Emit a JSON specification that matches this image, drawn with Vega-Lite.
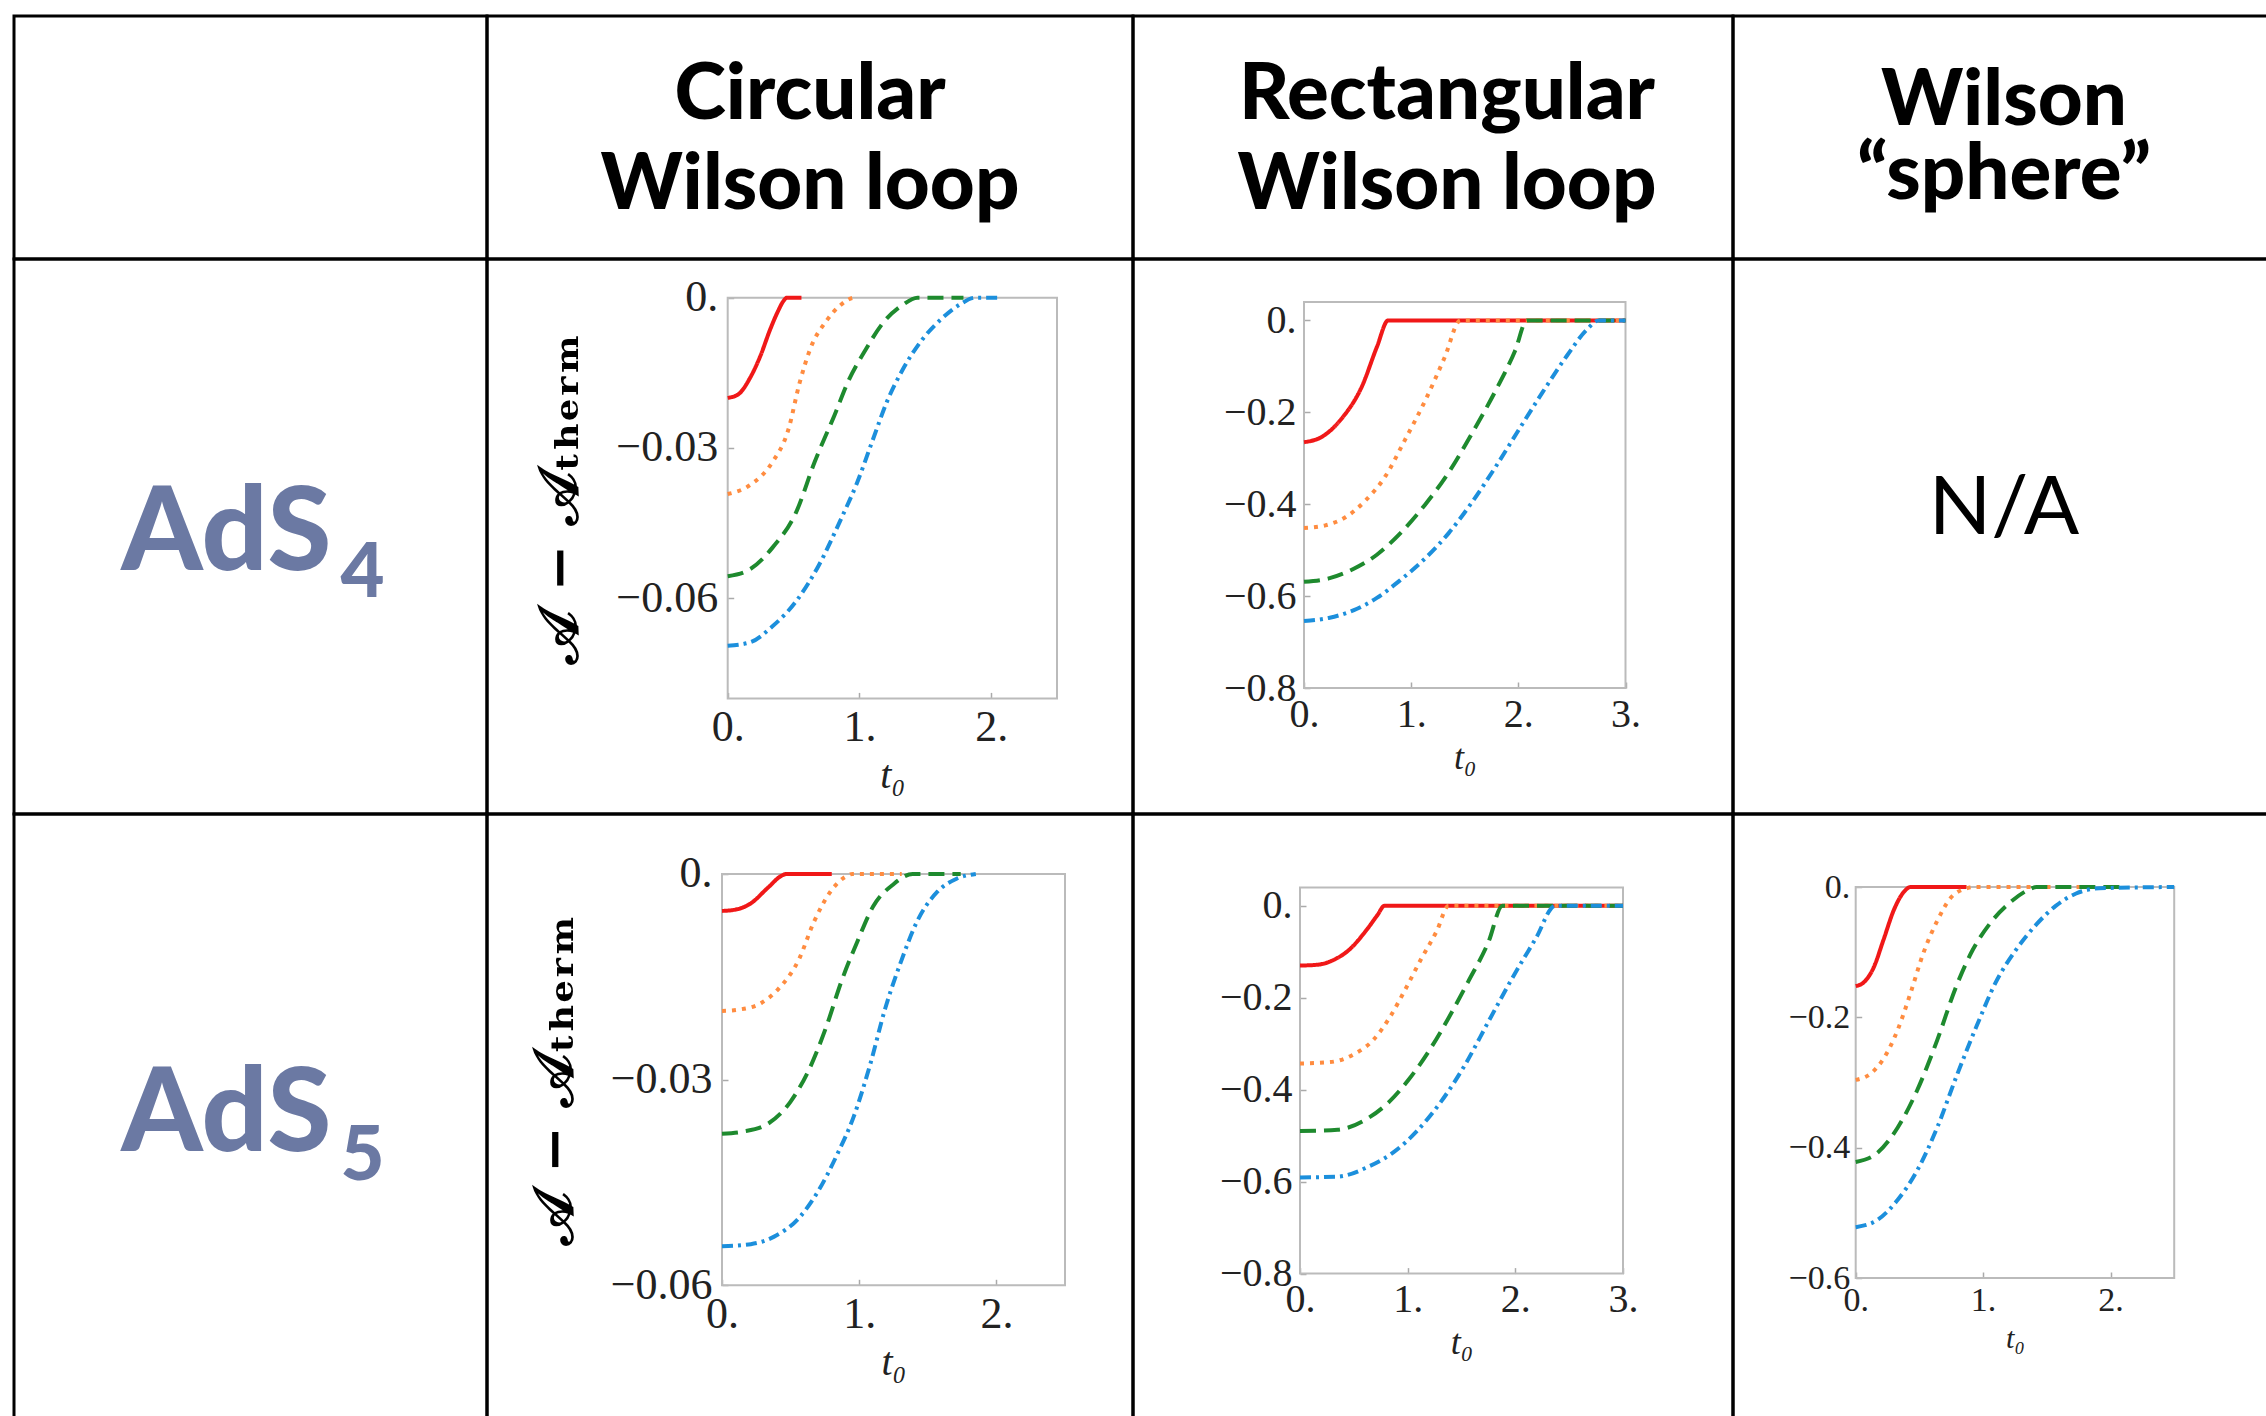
{
  "$schema": "https://vega.github.io/schema/vega-lite/v6.json",
  "padding": {"left": 12, "top": 14, "right": 0, "bottom": 0},
  "background": "white",
  "bounds": "flush",
  "spacing": 0,
  "columns": 4,
  "config": {
    "view": {"stroke": "#000", "strokeWidth": 3},
    "axis": {"grid": false, "labelFont": "Liberation Serif", "labelColor": "#222", "titleFont": "Liberation Serif", "titleColor": "#222", "titleFontWeight": "normal", "domain": false, "tickColor": "#aaa", "tickSize": -6, "tickWidth": 1.5, "labelOverlap": false, "labelFlush": false, "labelBound": false},
    "text": {"font": "Lato"},
    "line": {"strokeWidth": 4, "interpolate": "monotone"}
  },
  "datasets": {
    "c4": [
      {"s": "s1", "t": 0, "v": -0.0200}, {"s": "s1", "t": 0.08, "v": -0.0193}, {"s": "s1", "t": 0.17, "v": -0.0160}, {"s": "s1", "t": 0.25, "v": -0.0115}, {"s": "s1", "t": 0.32, "v": -0.0065}, {"s": "s1", "t": 0.38, "v": -0.0028}, {"s": "s1", "t": 0.42, "v": -0.0008}, {"s": "s1", "t": 0.45, "v": 0}, {"s": "s1", "t": 0.56, "v": 0},
      {"s": "s2", "t": 0, "v": -0.0392}, {"s": "s2", "t": 0.17, "v": -0.0374}, {"s": "s2", "t": 0.34, "v": -0.0328}, {"s": "s2", "t": 0.46, "v": -0.0264}, {"s": "s2", "t": 0.545, "v": -0.0171}, {"s": "s2", "t": 0.63, "v": -0.0100}, {"s": "s2", "t": 0.75, "v": -0.0046}, {"s": "s2", "t": 0.86, "v": -0.0014}, {"s": "s2", "t": 0.965, "v": 0}, {"s": "s2", "t": 0.98, "v": 0},
      {"s": "s3", "t": 0, "v": -0.0556}, {"s": "s3", "t": 0.17, "v": -0.0542}, {"s": "s3", "t": 0.34, "v": -0.0499}, {"s": "s3", "t": 0.52, "v": -0.0428}, {"s": "s3", "t": 0.66, "v": -0.0328}, {"s": "s3", "t": 0.81, "v": -0.0235}, {"s": "s3", "t": 0.92, "v": -0.0164}, {"s": "s3", "t": 1.04, "v": -0.0107}, {"s": "s3", "t": 1.18, "v": -0.0050}, {"s": "s3", "t": 1.33, "v": -0.0014}, {"s": "s3", "t": 1.44, "v": 0}, {"s": "s3", "t": 1.79, "v": 0},
      {"s": "s4", "t": 0, "v": -0.0695}, {"s": "s4", "t": 0.17, "v": -0.0688}, {"s": "s4", "t": 0.34, "v": -0.0656}, {"s": "s4", "t": 0.52, "v": -0.0606}, {"s": "s4", "t": 0.69, "v": -0.0535}, {"s": "s4", "t": 0.86, "v": -0.0442}, {"s": "s4", "t": 0.98, "v": -0.0371}, {"s": "s4", "t": 1.10, "v": -0.0285}, {"s": "s4", "t": 1.21, "v": -0.0207}, {"s": "s4", "t": 1.33, "v": -0.0143}, {"s": "s4", "t": 1.47, "v": -0.0086}, {"s": "s4", "t": 1.62, "v": -0.0043}, {"s": "s4", "t": 1.76, "v": -0.0014}, {"s": "s4", "t": 1.88, "v": 0}, {"s": "s4", "t": 2.07, "v": 0}
    ],
    "r4": [
      {"s": "s1", "t": 0, "v": -0.265}, {"s": "s1", "t": 0.17, "v": -0.253}, {"s": "s1", "t": 0.35, "v": -0.214}, {"s": "s1", "t": 0.54, "v": -0.144}, {"s": "s1", "t": 0.68, "v": -0.058}, {"s": "s1", "t": 0.786, "v": 0}, {"s": "s1", "t": 3, "v": 0},
      {"s": "s2", "t": 0, "v": -0.452}, {"s": "s2", "t": 0.20, "v": -0.446}, {"s": "s2", "t": 0.39, "v": -0.428}, {"s": "s2", "t": 0.57, "v": -0.393}, {"s": "s2", "t": 0.76, "v": -0.339}, {"s": "s2", "t": 0.94, "v": -0.261}, {"s": "s2", "t": 1.13, "v": -0.175}, {"s": "s2", "t": 1.31, "v": -0.082}, {"s": "s2", "t": 1.46, "v": 0}, {"s": "s2", "t": 3, "v": 0},
      {"s": "s3", "t": 0, "v": -0.569}, {"s": "s3", "t": 0.24, "v": -0.561}, {"s": "s3", "t": 0.46, "v": -0.541}, {"s": "s3", "t": 0.68, "v": -0.510}, {"s": "s3", "t": 0.90, "v": -0.463}, {"s": "s3", "t": 1.13, "v": -0.401}, {"s": "s3", "t": 1.35, "v": -0.331}, {"s": "s3", "t": 1.57, "v": -0.245}, {"s": "s3", "t": 1.79, "v": -0.152}, {"s": "s3", "t": 1.97, "v": -0.066}, {"s": "s3", "t": 2.08, "v": 0}, {"s": "s3", "t": 3, "v": 0},
      {"s": "s4", "t": 0, "v": -0.654}, {"s": "s4", "t": 0.24, "v": -0.647}, {"s": "s4", "t": 0.46, "v": -0.631}, {"s": "s4", "t": 0.68, "v": -0.604}, {"s": "s4", "t": 0.90, "v": -0.565}, {"s": "s4", "t": 1.13, "v": -0.518}, {"s": "s4", "t": 1.35, "v": -0.463}, {"s": "s4", "t": 1.57, "v": -0.395}, {"s": "s4", "t": 1.79, "v": -0.318}, {"s": "s4", "t": 2.01, "v": -0.236}, {"s": "s4", "t": 2.23, "v": -0.155}, {"s": "s4", "t": 2.45, "v": -0.078}, {"s": "s4", "t": 2.64, "v": -0.020}, {"s": "s4", "t": 2.75, "v": 0}, {"s": "s4", "t": 3, "v": 0}
    ],
    "c5": [
      {"s": "s1", "t": 0, "v": -0.0054}, {"s": "s1", "t": 0.10, "v": -0.0052}, {"s": "s1", "t": 0.21, "v": -0.0043}, {"s": "s1", "t": 0.33, "v": -0.0021}, {"s": "s1", "t": 0.44, "v": -0.0002}, {"s": "s1", "t": 0.47, "v": 0}, {"s": "s1", "t": 0.80, "v": 0},
      {"s": "s2", "t": 0, "v": -0.0200}, {"s": "s2", "t": 0.12, "v": -0.0198}, {"s": "s2", "t": 0.27, "v": -0.0190}, {"s": "s2", "t": 0.41, "v": -0.0168}, {"s": "s2", "t": 0.56, "v": -0.0125}, {"s": "s2", "t": 0.67, "v": -0.0070}, {"s": "s2", "t": 0.79, "v": -0.0026}, {"s": "s2", "t": 0.92, "v": -0.0002}, {"s": "s2", "t": 0.95, "v": 0}, {"s": "s2", "t": 1.31, "v": 0},
      {"s": "s3", "t": 0, "v": -0.0379}, {"s": "s3", "t": 0.15, "v": -0.0376}, {"s": "s3", "t": 0.33, "v": -0.0365}, {"s": "s3", "t": 0.50, "v": -0.0332}, {"s": "s3", "t": 0.64, "v": -0.0283}, {"s": "s3", "t": 0.76, "v": -0.0223}, {"s": "s3", "t": 0.87, "v": -0.0157}, {"s": "s3", "t": 0.99, "v": -0.0097}, {"s": "s3", "t": 1.10, "v": -0.0048}, {"s": "s3", "t": 1.25, "v": -0.0015}, {"s": "s3", "t": 1.39, "v": 0}, {"s": "s3", "t": 1.74, "v": 0},
      {"s": "s4", "t": 0, "v": -0.0543}, {"s": "s4", "t": 0.21, "v": -0.0540}, {"s": "s4", "t": 0.38, "v": -0.0529}, {"s": "s4", "t": 0.56, "v": -0.0502}, {"s": "s4", "t": 0.70, "v": -0.0463}, {"s": "s4", "t": 0.84, "v": -0.0409}, {"s": "s4", "t": 0.96, "v": -0.0354}, {"s": "s4", "t": 1.08, "v": -0.0278}, {"s": "s4", "t": 1.19, "v": -0.0196}, {"s": "s4", "t": 1.31, "v": -0.0125}, {"s": "s4", "t": 1.42, "v": -0.0070}, {"s": "s4", "t": 1.57, "v": -0.0026}, {"s": "s4", "t": 1.71, "v": -0.0007}, {"s": "s4", "t": 1.85, "v": 0}
    ],
    "r5": [
      {"s": "s1", "t": 0, "v": -0.130}, {"s": "s1", "t": 0.17, "v": -0.128}, {"s": "s1", "t": 0.31, "v": -0.118}, {"s": "s1", "t": 0.46, "v": -0.095}, {"s": "s1", "t": 0.61, "v": -0.055}, {"s": "s1", "t": 0.72, "v": -0.020}, {"s": "s1", "t": 0.784, "v": 0}, {"s": "s1", "t": 3, "v": 0},
      {"s": "s2", "t": 0, "v": -0.343}, {"s": "s2", "t": 0.28, "v": -0.340}, {"s": "s2", "t": 0.50, "v": -0.323}, {"s": "s2", "t": 0.68, "v": -0.292}, {"s": "s2", "t": 0.83, "v": -0.244}, {"s": "s2", "t": 0.98, "v": -0.181}, {"s": "s2", "t": 1.12, "v": -0.118}, {"s": "s2", "t": 1.27, "v": -0.055}, {"s": "s2", "t": 1.38, "v": 0}, {"s": "s2", "t": 3, "v": 0},
      {"s": "s3", "t": 0, "v": -0.490}, {"s": "s3", "t": 0.35, "v": -0.487}, {"s": "s3", "t": 0.61, "v": -0.465}, {"s": "s3", "t": 0.83, "v": -0.426}, {"s": "s3", "t": 1.01, "v": -0.378}, {"s": "s3", "t": 1.20, "v": -0.315}, {"s": "s3", "t": 1.38, "v": -0.244}, {"s": "s3", "t": 1.56, "v": -0.166}, {"s": "s3", "t": 1.75, "v": -0.079}, {"s": "s3", "t": 1.88, "v": 0}, {"s": "s3", "t": 3, "v": 0},
      {"s": "s4", "t": 0, "v": -0.591}, {"s": "s4", "t": 0.35, "v": -0.589}, {"s": "s4", "t": 0.64, "v": -0.567}, {"s": "s4", "t": 0.87, "v": -0.536}, {"s": "s4", "t": 1.09, "v": -0.489}, {"s": "s4", "t": 1.31, "v": -0.426}, {"s": "s4", "t": 1.53, "v": -0.347}, {"s": "s4", "t": 1.75, "v": -0.252}, {"s": "s4", "t": 1.97, "v": -0.158}, {"s": "s4", "t": 2.19, "v": -0.071}, {"s": "s4", "t": 2.37, "v": 0}, {"s": "s4", "t": 3, "v": 0}
    ],
    "s5": [
      {"s": "s1", "t": 0, "v": -0.152}, {"s": "s1", "t": 0.065, "v": -0.146}, {"s": "s1", "t": 0.14, "v": -0.124}, {"s": "s1", "t": 0.22, "v": -0.080}, {"s": "s1", "t": 0.30, "v": -0.035}, {"s": "s1", "t": 0.38, "v": -0.007}, {"s": "s1", "t": 0.43, "v": 0}, {"s": "s1", "t": 0.87, "v": 0},
      {"s": "s2", "t": 0, "v": -0.296}, {"s": "s2", "t": 0.12, "v": -0.286}, {"s": "s2", "t": 0.22, "v": -0.263}, {"s": "s2", "t": 0.33, "v": -0.219}, {"s": "s2", "t": 0.43, "v": -0.163}, {"s": "s2", "t": 0.53, "v": -0.102}, {"s": "s2", "t": 0.64, "v": -0.052}, {"s": "s2", "t": 0.74, "v": -0.018}, {"s": "s2", "t": 0.87, "v": -0.002}, {"s": "s2", "t": 0.92, "v": 0}, {"s": "s2", "t": 1.8, "v": 0},
      {"s": "s3", "t": 0, "v": -0.422}, {"s": "s3", "t": 0.17, "v": -0.408}, {"s": "s3", "t": 0.33, "v": -0.369}, {"s": "s3", "t": 0.48, "v": -0.313}, {"s": "s3", "t": 0.64, "v": -0.235}, {"s": "s3", "t": 0.79, "v": -0.152}, {"s": "s3", "t": 0.92, "v": -0.096}, {"s": "s3", "t": 1.05, "v": -0.057}, {"s": "s3", "t": 1.21, "v": -0.024}, {"s": "s3", "t": 1.36, "v": -0.004}, {"s": "s3", "t": 1.42, "v": 0}, {"s": "s3", "t": 2.1, "v": 0},
      {"s": "s4", "t": 0, "v": -0.522}, {"s": "s4", "t": 0.17, "v": -0.511}, {"s": "s4", "t": 0.33, "v": -0.480}, {"s": "s4", "t": 0.48, "v": -0.436}, {"s": "s4", "t": 0.64, "v": -0.369}, {"s": "s4", "t": 0.79, "v": -0.291}, {"s": "s4", "t": 0.95, "v": -0.213}, {"s": "s4", "t": 1.10, "v": -0.146}, {"s": "s4", "t": 1.26, "v": -0.096}, {"s": "s4", "t": 1.42, "v": -0.057}, {"s": "s4", "t": 1.57, "v": -0.029}, {"s": "s4", "t": 1.73, "v": -0.010}, {"s": "s4", "t": 1.91, "v": -0.002}, {"s": "s4", "t": 2.5, "v": 0}
    ]
  },
  "concat": [
    {"width": 473, "height": 243, "data": {"values": [{"label": ""}]}, "mark": {"type": "text"},
     "encoding": {"x": {"datum": 0.5, "type": "quantitative", "scale": {"domain": [0, 1]}, "axis": null}, "y": {"datum": 0.5, "type": "quantitative", "scale": {"domain": [0, 1]}, "axis": null}, "text": {"field": "label"}}},
    {"width": 646, "height": 243, "data": {"values": [{"label": ["Circular", "Wilson loop"]}]}, "mark": {"type": "text", "fontSize": 78, "fontWeight": 900, "baseline": "alphabetic", "dy": -18.5, "lineHeight": 90, "color": "#000"},
     "encoding": {"x": {"datum": 0.5, "type": "quantitative", "scale": {"domain": [0, 1]}, "axis": null}, "y": {"datum": 0.5, "type": "quantitative", "scale": {"domain": [0, 1]}, "axis": null}, "text": {"field": "label"}}},
    {"width": 600, "height": 243, "data": {"values": [{"label": ["Rectangular", "Wilson loop"]}]}, "mark": {"type": "text", "fontSize": 78, "fontWeight": 900, "baseline": "alphabetic", "dx": 14, "dy": -18.5, "lineHeight": 90, "color": "#000"},
     "encoding": {"x": {"datum": 0.5, "type": "quantitative", "scale": {"domain": [0, 1]}, "axis": null}, "y": {"datum": 0.5, "type": "quantitative", "scale": {"domain": [0, 1]}, "axis": null}, "text": {"field": "label"}}},
    {"width": 542, "height": 243, "data": {"values": [{"label": ["Wilson", "“sphere”"]}]}, "mark": {"type": "text", "fontSize": 78, "fontWeight": 900, "baseline": "alphabetic", "dy": -12.5, "lineHeight": 74, "color": "#000"},
     "encoding": {"x": {"datum": 0.5, "type": "quantitative", "scale": {"domain": [0, 1]}, "axis": null}, "y": {"datum": 0.5, "type": "quantitative", "scale": {"domain": [0, 1]}, "axis": null}, "text": {"field": "label"}}},

    {"width": 473, "height": 555, "data": {"values": [{"name": "AdS", "sub": "4"}]},
     "encoding": {"x": {"datum": 0.5, "type": "quantitative", "scale": {"domain": [0, 1]}, "axis": null}, "y": {"datum": 0.5, "type": "quantitative", "scale": {"domain": [0, 1]}, "axis": null}},
     "layer": [
       {"mark": {"type": "text", "fontSize": 116, "fontWeight": 900, "align": "right", "baseline": "alphabetic", "dx": 81, "dy": 33.5, "color": "#6b79a3"}, "encoding": {"text": {"field": "name"}}},
       {"mark": {"type": "text", "fontSize": 76, "fontWeight": 900, "align": "left", "baseline": "alphabetic", "dx": 90, "dy": 60.5, "color": "#6b79a3"}, "encoding": {"text": {"field": "sub"}}}
     ]},
    {"width": 646, "height": 555, "data": {"name": "c4"},
     "layer": [
       {"data": {"values": [{}]}, "mark": {"type": "rect", "fill": "transparent", "stroke": "#bbbbbb", "strokeWidth": 2}, "encoding": {"x": {"datum": 0, "type": "quantitative"}, "x2": {"datum": 2.5}, "y": {"datum": -0.08, "type": "quantitative"}, "y2": {"datum": 0}}},
       {"mark": {"type": "line"}, "encoding": {
         "x": {"field": "t", "type": "quantitative", "scale": {"domain": [0, 2.5], "range": [240.7, 570], "nice": false, "zero": false}, "axis": {"values": [0, 1, 2], "labelExpr": "datum.value + '.'", "offset": -115.6, "labelFontSize": 44, "labelPadding": 13, "title": "t₀", "titleFontStyle": "italic", "titleFontSize": 40, "titlePadding": 6}},
         "y": {"field": "v", "type": "quantitative", "scale": {"domain": [-0.08, 0], "range": [439.4, 38.7], "nice": false, "zero": false}, "axis": {"values": [0, -0.03, -0.06], "labelExpr": "datum.value == 0 ? '0.' : '−' + format(-datum.value, '.2f')", "offset": -240.7, "labelFontSize": 44, "labelPadding": 16, "title": "𝒜 − 𝒜ₜₕₑᵣₘ", "titleFont": "DejaVu Serif", "titleFontWeight": "bold", "titleColor": "#000", "titleFontSize": 56, "titlePadding": 26}},
         "color": {"field": "s", "type": "nominal", "scale": {"domain": ["s1", "s2", "s3", "s4"], "range": ["#f01818", "#ff8c40", "#1e8a2e", "#1c8fdc"]}, "legend": null},
         "strokeDash": {"field": "s", "type": "nominal", "scale": {"domain": ["s1", "s2", "s3", "s4"], "range": [[1, 0], [4, 6], [16, 8], [11, 5, 3, 5]]}, "legend": null}}}
     ]},
    {"width": 600, "height": 555, "data": {"name": "r4"},
     "layer": [
       {"data": {"values": [{}]}, "mark": {"type": "rect", "fill": "transparent", "stroke": "#bbbbbb", "strokeWidth": 2}, "encoding": {"x": {"datum": 0, "type": "quantitative"}, "x2": {"datum": 3}, "y": {"datum": -0.8, "type": "quantitative"}, "y2": {"datum": 0.04}}},
       {"mark": {"type": "line"}, "encoding": {
         "x": {"field": "t", "type": "quantitative", "scale": {"domain": [0, 3], "range": [171, 492.5], "nice": false, "zero": false}, "axis": {"values": [0, 1, 2, 3], "labelExpr": "datum.value + '.'", "offset": -126, "labelFontSize": 40, "labelPadding": 12, "title": "t₀", "titleFontStyle": "italic", "titleFontSize": 36, "titlePadding": 6}},
         "y": {"field": "v", "type": "quantitative", "scale": {"domain": [-0.8, 0.04], "range": [429, 43], "nice": false, "zero": false}, "axis": {"values": [0, -0.2, -0.4, -0.6, -0.8], "labelExpr": "datum.value == 0 ? '0.' : '−' + format(-datum.value, '.1f')", "offset": -171, "labelFontSize": 40, "labelPadding": 14, "title": null}},
         "color": {"field": "s", "type": "nominal", "scale": {"domain": ["s1", "s2", "s3", "s4"], "range": ["#f01818", "#ff8c40", "#1e8a2e", "#1c8fdc"]}, "legend": null},
         "strokeDash": {"field": "s", "type": "nominal", "scale": {"domain": ["s1", "s2", "s3", "s4"], "range": [[1, 0], [4, 6], [16, 8], [11, 5, 3, 5]]}, "legend": null}}}
     ]},
    {"width": 542, "height": 555, "data": {"values": [{"label": "N/A"}]}, "mark": {"type": "text", "fontSize": 82, "baseline": "alphabetic", "dy": -2.5, "color": "#000"},
     "encoding": {"x": {"datum": 0.5, "type": "quantitative", "scale": {"domain": [0, 1]}, "axis": null}, "y": {"datum": 0.5, "type": "quantitative", "scale": {"domain": [0, 1]}, "axis": null}, "text": {"field": "label"}}},

    {"width": 473, "height": 610, "data": {"values": [{"name": "AdS", "sub": "5"}]},
     "encoding": {"x": {"datum": 0.5, "type": "quantitative", "scale": {"domain": [0, 1]}, "axis": null}, "y": {"datum": 0.5, "type": "quantitative", "scale": {"domain": [0, 1]}, "axis": null}},
     "layer": [
       {"mark": {"type": "text", "fontSize": 116, "fontWeight": 900, "align": "right", "baseline": "alphabetic", "dx": 81, "dy": 32, "color": "#6b79a3"}, "encoding": {"text": {"field": "name"}}},
       {"mark": {"type": "text", "fontSize": 76, "fontWeight": 900, "align": "left", "baseline": "alphabetic", "dx": 90, "dy": 61, "color": "#6b79a3"}, "encoding": {"text": {"field": "sub"}}}
     ]},
    {"width": 646, "height": 610, "data": {"name": "c5"},
     "layer": [
       {"data": {"values": [{}]}, "mark": {"type": "rect", "fill": "transparent", "stroke": "#bbbbbb", "strokeWidth": 2}, "encoding": {"x": {"datum": 0, "type": "quantitative"}, "x2": {"datum": 2.5}, "y": {"datum": -0.06, "type": "quantitative"}, "y2": {"datum": 0}}},
       {"mark": {"type": "line"}, "encoding": {
         "x": {"field": "t", "type": "quantitative", "scale": {"domain": [0, 2.5], "range": [235, 578], "nice": false, "zero": false}, "axis": {"values": [0, 1, 2], "labelExpr": "datum.value + '.'", "offset": -138.7, "labelFontSize": 44, "labelPadding": 13, "title": "t₀", "titleFontStyle": "italic", "titleFontSize": 40, "titlePadding": 6}},
         "y": {"field": "v", "type": "quantitative", "scale": {"domain": [-0.06, 0], "range": [471.3, 59.9], "nice": false, "zero": false}, "axis": {"values": [0, -0.03, -0.06], "labelExpr": "datum.value == 0 ? '0.' : '−' + format(-datum.value, '.2f')", "offset": -235, "labelFontSize": 44, "labelPadding": 16, "title": "𝒜 − 𝒜ₜₕₑᵣₘ", "titleFont": "DejaVu Serif", "titleFontWeight": "bold", "titleColor": "#000", "titleFontSize": 56, "titlePadding": 26}},
         "color": {"field": "s", "type": "nominal", "scale": {"domain": ["s1", "s2", "s3", "s4"], "range": ["#f01818", "#ff8c40", "#1e8a2e", "#1c8fdc"]}, "legend": null},
         "strokeDash": {"field": "s", "type": "nominal", "scale": {"domain": ["s1", "s2", "s3", "s4"], "range": [[1, 0], [4, 6], [16, 8], [11, 5, 3, 5]]}, "legend": null}}}
     ]},
    {"width": 600, "height": 610, "data": {"name": "r5"},
     "layer": [
       {"data": {"values": [{}]}, "mark": {"type": "rect", "fill": "transparent", "stroke": "#bbbbbb", "strokeWidth": 2}, "encoding": {"x": {"datum": 0, "type": "quantitative"}, "x2": {"datum": 3}, "y": {"datum": -0.8, "type": "quantitative"}, "y2": {"datum": 0.04}}},
       {"mark": {"type": "line"}, "encoding": {
         "x": {"field": "t", "type": "quantitative", "scale": {"domain": [0, 3], "range": [167, 490], "nice": false, "zero": false}, "axis": {"values": [0, 1, 2, 3], "labelExpr": "datum.value + '.'", "offset": -150.4, "labelFontSize": 40, "labelPadding": 12, "title": "t₀", "titleFontStyle": "italic", "titleFontSize": 36, "titlePadding": 6}},
         "y": {"field": "v", "type": "quantitative", "scale": {"domain": [-0.8, 0.04], "range": [459.6, 73.4], "nice": false, "zero": false}, "axis": {"values": [0, -0.2, -0.4, -0.6, -0.8], "labelExpr": "datum.value == 0 ? '0.' : '−' + format(-datum.value, '.1f')", "offset": -167, "labelFontSize": 40, "labelPadding": 14, "title": null}},
         "color": {"field": "s", "type": "nominal", "scale": {"domain": ["s1", "s2", "s3", "s4"], "range": ["#f01818", "#ff8c40", "#1e8a2e", "#1c8fdc"]}, "legend": null},
         "strokeDash": {"field": "s", "type": "nominal", "scale": {"domain": ["s1", "s2", "s3", "s4"], "range": [[1, 0], [4, 6], [16, 8], [11, 5, 3, 5]]}, "legend": null}}}
     ]},
    {"width": 542, "height": 610, "data": {"name": "s5"},
     "layer": [
       {"data": {"values": [{}]}, "mark": {"type": "rect", "fill": "transparent", "stroke": "#bbbbbb", "strokeWidth": 2}, "encoding": {"x": {"datum": 0, "type": "quantitative"}, "x2": {"datum": 2.5}, "y": {"datum": -0.6, "type": "quantitative"}, "y2": {"datum": 0}}},
       {"mark": {"type": "line"}, "encoding": {
         "x": {"field": "t", "type": "quantitative", "scale": {"domain": [0, 2.5], "range": [122.7, 441.2], "nice": false, "zero": false}, "axis": {"values": [0, 1, 2], "labelExpr": "datum.value + '.'", "offset": -146, "labelFontSize": 34, "labelPadding": 11, "title": "t₀", "titleFontStyle": "italic", "titleFontSize": 30, "titlePadding": 6}},
         "y": {"field": "v", "type": "quantitative", "scale": {"domain": [-0.6, 0], "range": [464, 73], "nice": false, "zero": false}, "axis": {"values": [0, -0.2, -0.4, -0.6], "labelExpr": "datum.value == 0 ? '0.' : '−' + format(-datum.value, '.1f')", "offset": -122.7, "labelFontSize": 34, "labelPadding": 12, "title": null}},
         "color": {"field": "s", "type": "nominal", "scale": {"domain": ["s1", "s2", "s3", "s4"], "range": ["#f01818", "#ff8c40", "#1e8a2e", "#1c8fdc"]}, "legend": null},
         "strokeDash": {"field": "s", "type": "nominal", "scale": {"domain": ["s1", "s2", "s3", "s4"], "range": [[1, 0], [4, 6], [16, 8], [11, 5, 3, 5]]}, "legend": null}}}
     ]}
  ]
}
